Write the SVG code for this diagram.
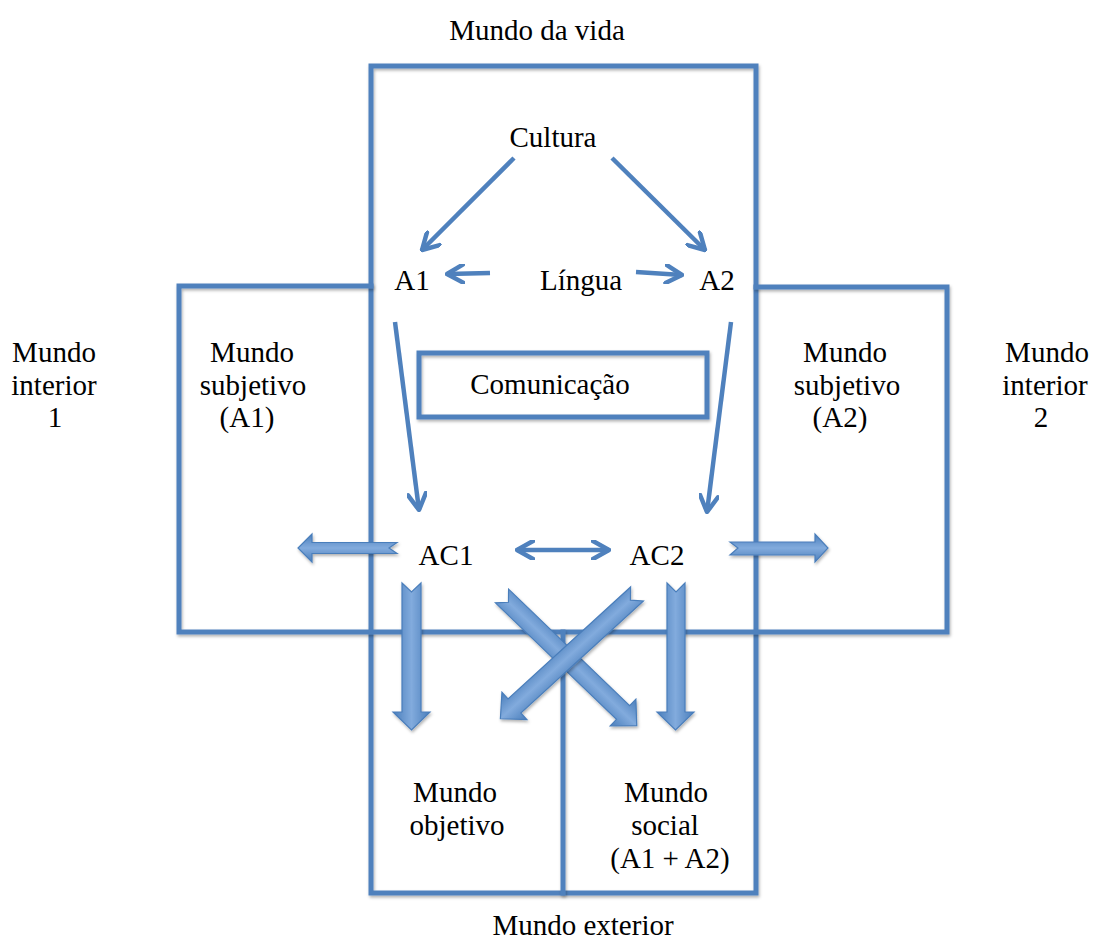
<svg xmlns="http://www.w3.org/2000/svg" width="1093" height="940" viewBox="0 0 1093 940">
<style>
.frame{fill:none;stroke:#4f81bd;stroke-width:5;stroke-linecap:square;filter:url(#sh)}
.thin{fill:none;stroke:#4f81bd;stroke-width:4.5;marker-end:url(#chev)}
.thin2{fill:none;stroke:#4f81bd;stroke-width:4.5;marker-end:url(#chev);marker-start:url(#chevs)}
.block{fill:url(#bg);stroke:#4a7ebb;stroke-width:1.2;stroke-linejoin:miter;filter:url(#sh)}
.blockd{fill:url(#bgh);stroke:#4a7ebb;stroke-width:1.2;stroke-linejoin:miter}
.lbl{font-family:"Liberation Serif","Times New Roman",serif;font-size:29px;fill:#000;text-anchor:middle}
</style>
<defs>
<filter id="sh" filterUnits="userSpaceOnUse" x="0" y="0" width="1093" height="940">
<feDropShadow dx="1" dy="2" stdDeviation="1.5" flood-color="#000" flood-opacity="0.3"/>
</filter>
<linearGradient id="bg" x1="0" y1="0" x2="1" y2="0">
<stop offset="0" stop-color="#4a7ebb"/>
<stop offset="0.5" stop-color="#82abdd"/>
<stop offset="1" stop-color="#4a7ebb"/>
</linearGradient>
<linearGradient id="bgh" x1="0" y1="0" x2="0" y2="1">
<stop offset="0" stop-color="#4a7ebb"/>
<stop offset="0.5" stop-color="#82abdd"/>
<stop offset="1" stop-color="#4a7ebb"/>
</linearGradient>
<marker id="chev" viewBox="0 0 20 20" refX="18" refY="10" markerWidth="20" markerHeight="20" markerUnits="userSpaceOnUse" orient="auto">
<path d="M2,1 L18,10 L2,19" fill="none" stroke="#4f81bd" stroke-width="4.5" stroke-linecap="round" stroke-linejoin="round"/>
</marker>
<marker id="chevs" viewBox="0 0 20 20" refX="2" refY="10" markerWidth="20" markerHeight="20" markerUnits="userSpaceOnUse" orient="auto">
<path d="M18,1 L2,10 L18,19" fill="none" stroke="#4f81bd" stroke-width="4.5" stroke-linecap="round" stroke-linejoin="round"/>
</marker>
</defs>
<rect width="1093" height="940" fill="#fff"/>

<g id="frames">
<path class="frame" d="M371,893 L371,66 L756,66 L756,893 Z"/>
<path class="frame" d="M371,286 L179,286 L179,632 L947,632 L947,287 L756,287"/>
<path class="frame" d="M563,632 L563,893"/>
<rect id="comunicacao-box" class="frame" x="419" y="353" width="288" height="64"/>
</g>

<g id="connectors">
<line class="thin" x1="514" y1="158" x2="422" y2="250"/>
<line class="thin" x1="612" y1="158" x2="705" y2="250"/>
<line class="thin" x1="490" y1="273" x2="447" y2="274"/>
<line class="thin" x1="636" y1="272" x2="682" y2="275"/>
<line class="thin" x1="395" y1="322" x2="419" y2="510"/>
<line class="thin" x1="731" y1="322" x2="707" y2="512"/>
<line class="thin2" x1="517" y1="550" x2="609" y2="550"/>
<path class="block" style="fill:url(#bgh)" d="M397,542.5 L312,542.5 L312,534 L298,548 L312,562 L312,553.5 L397,553.5 L389,548 Z"/>
<path class="block" style="fill:url(#bgh)" d="M730,542 L815,542 L815,534 L828,548 L815,562 L815,555 L730,555 L738,548 Z"/>
<path class="block" d="M402,583 L411.5,592 L421,583 L421,712 L430,712 L411.5,730 L393,712 L402,712 Z"/>
<path class="block" d="M667,583 L676,592 L685,583 L685,712 L694,712 L675.5,730 L657,712 L667,712 Z"/>
<g filter="url(#sh)">
<path class="blockd" transform="translate(502,596) rotate(43.9)" d="M0,-9.5 L168,-9.5 L168,-18.5 L187,0 L168,18.5 L168,9.5 L0,9.5 L9,0 Z"/>
</g>
<g filter="url(#sh)">
<path class="blockd" transform="translate(637,594) rotate(137.6)" d="M0,-9.5 L166,-9.5 L166,-18.5 L185,0 L166,18.5 L166,9.5 L0,9.5 L9,0 Z"/>
</g>
</g>

<g id="mundo-da-vida"><text class="lbl" x="537" y="40">Mundo da vida</text></g>
<g id="cultura"><text class="lbl" x="553" y="147">Cultura</text></g>
<g id="a1"><text class="lbl" x="412" y="290">A1</text></g>
<g id="lingua"><text class="lbl" x="581" y="290">Língua</text></g>
<g id="a2"><text class="lbl" x="717" y="290">A2</text></g>
<g id="comunicacao"><text class="lbl" x="550" y="394">Comunicação</text></g>
<g id="ac1"><text class="lbl" x="446" y="565">AC1</text></g>
<g id="ac2"><text class="lbl" x="657" y="565">AC2</text></g>
<g id="mundo-interior-1">
<text class="lbl" x="54" y="362">Mundo</text>
<text class="lbl" x="54" y="395">interior</text>
<text class="lbl" x="55" y="427">1</text>
</g>
<g id="mundo-subjetivo-a1">
<text class="lbl" x="252" y="362">Mundo</text>
<text class="lbl" x="253" y="395">subjetivo</text>
<text class="lbl" x="247" y="427">(A1)</text>
</g>
<g id="mundo-subjetivo-a2">
<text class="lbl" x="845" y="362">Mundo</text>
<text class="lbl" x="847" y="395">subjetivo</text>
<text class="lbl" x="840" y="427">(A2)</text>
</g>
<g id="mundo-interior-2">
<text class="lbl" x="1047" y="362">Mundo</text>
<text class="lbl" x="1045" y="395">interior</text>
<text class="lbl" x="1041" y="427">2</text>
</g>
<g id="mundo-objetivo">
<text class="lbl" x="455" y="802">Mundo</text>
<text class="lbl" x="457" y="835">objetivo</text>
</g>
<g id="mundo-social">
<text class="lbl" x="666" y="802">Mundo</text>
<text class="lbl" x="665" y="835">social</text>
<text class="lbl" x="670" y="868">(A1 + A2)</text>
</g>
<g id="mundo-exterior"><text class="lbl" x="583" y="935">Mundo exterior</text></g>
</svg>
